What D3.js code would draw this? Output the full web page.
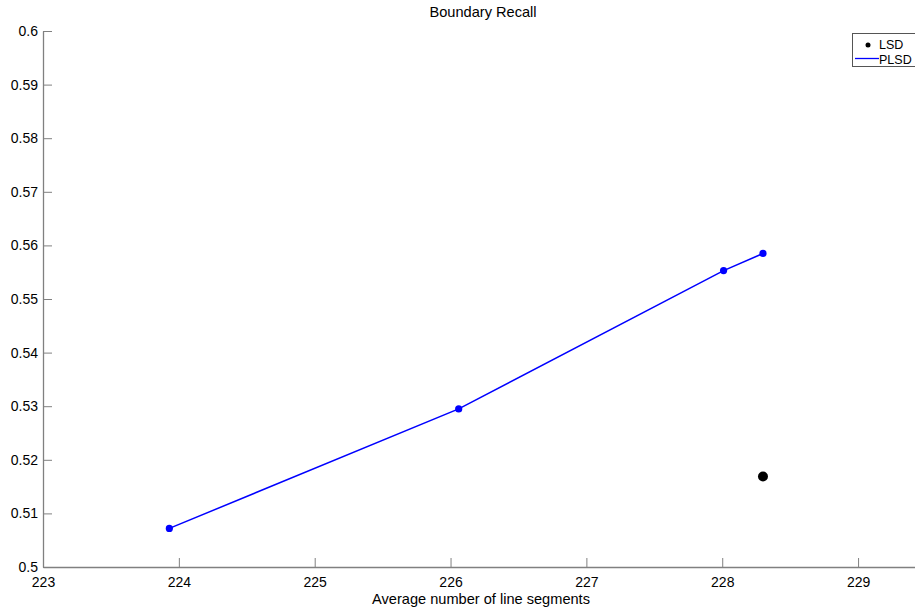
<!DOCTYPE html>
<html>
<head>
<meta charset="utf-8">
<script src="https://cdn.jsdelivr.net/npm/d3@7"></script>
<style>
html,body{margin:0;padding:0;background:#fff;overflow:hidden;}
svg{display:block;font-family:"Liberation Sans",Arial,Helvetica,sans-serif;}
</style>
</head>
<body>
<svg id="chart" width="915" height="610"></svg>
<script>
const plsdX = [223.93, 226.06, 228.01, 228.30];
const plsdY = [0.5072, 0.5295, 0.5553, 0.5585];
const lsdX = [228.30];
const lsdY = [0.5169];
const xTicks = [223, 224, 225, 226, 227, 228, 229];
const yTicks = [0.5, 0.51, 0.52, 0.53, 0.54, 0.55, 0.56, 0.57, 0.58, 0.59, 0.6];
const titleText = "Boundary Recall";
const xLabelText = "Average number of line segments";
const legendLabels = ["LSD", "PLSD"];

const svg = d3.select("#chart");
const x = d3.scaleLinear().domain([223, 229.5]).range([43, 926]);
const y = d3.scaleLinear().domain([0.5, 0.6]).range([567, 31]);
const axisColor = "#808080";

const xAxis = d3.axisBottom(x).tickValues(xTicks).tickSizeInner(-9).tickSizeOuter(0)
  .tickPadding(16).tickFormat(d3.format("d"));
const gx = svg.append("g").attr("transform", `translate(0,${y(0.5)})`).call(xAxis);
gx.select(".domain").attr("stroke", axisColor).attr("stroke-width", 1.3);
gx.selectAll(".tick line").attr("stroke", axisColor);
gx.selectAll(".tick text").attr("fill", "#000").attr("font-size", 14).attr("dy", "0.25em");

const yAxis = d3.axisLeft(y).tickValues(yTicks).tickSizeInner(-9).tickSizeOuter(0)
  .tickPadding(14).tickFormat(d => d3.format("")(+d.toFixed(2)));
const gy = svg.append("g").attr("transform", `translate(${x(223)},0)`).call(yAxis);
gy.select(".domain").attr("stroke", axisColor).attr("stroke-width", 1.3);
gy.selectAll(".tick line").attr("stroke", axisColor);
gy.selectAll(".tick text").attr("fill", "#000").attr("font-size", 14).attr("x", -5);
svg.selectAll("g").attr("font-family", null);

const pts = plsdX.map((v, i) => [v, plsdY[i]]);
svg.append("path").datum(pts)
  .attr("d", d3.line().x(d => x(d[0])).y(d => y(d[1])))
  .attr("fill", "none").attr("stroke", "#0000ff").attr("stroke-width", 1.5);
svg.append("g").selectAll("circle").data(pts).join("circle")
  .attr("cx", d => x(d[0])).attr("cy", d => y(d[1])).attr("r", 3.6).attr("fill", "#0000ff");

svg.append("g").selectAll("circle").data(lsdX.map((v, i) => [v, lsdY[i]])).join("circle")
  .attr("cx", d => x(d[0])).attr("cy", d => y(d[1])).attr("r", 5).attr("fill", "#000");

svg.append("text").attr("x", 483).attr("y", 17).attr("text-anchor", "middle")
  .attr("font-size", 14.6).text(titleText);
svg.append("text").attr("x", 481).attr("y", 604).attr("text-anchor", "middle")
  .attr("font-size", 14.6).text(xLabelText);

// legend
const lg = svg.append("g");
lg.append("rect").attr("x", 852.5).attr("y", 33.5).attr("width", 90).attr("height", 33)
  .attr("fill", "#fff").attr("stroke", "#555").attr("stroke-width", 1);
lg.append("circle").attr("cx", 868).attr("cy", 45).attr("r", 2.5).attr("fill", "#000");
lg.append("line").attr("x1", 855).attr("x2", 879).attr("y1", 58.5).attr("y2", 58.5)
  .attr("stroke", "#0000ff").attr("stroke-width", 1.3);
lg.append("text").attr("x", 879).attr("y", 49).attr("font-size", 12.5).text(legendLabels[0]);
lg.append("text").attr("x", 879).attr("y", 63.5).attr("font-size", 12.5).text(legendLabels[1]);
</script>
</body>
</html>
